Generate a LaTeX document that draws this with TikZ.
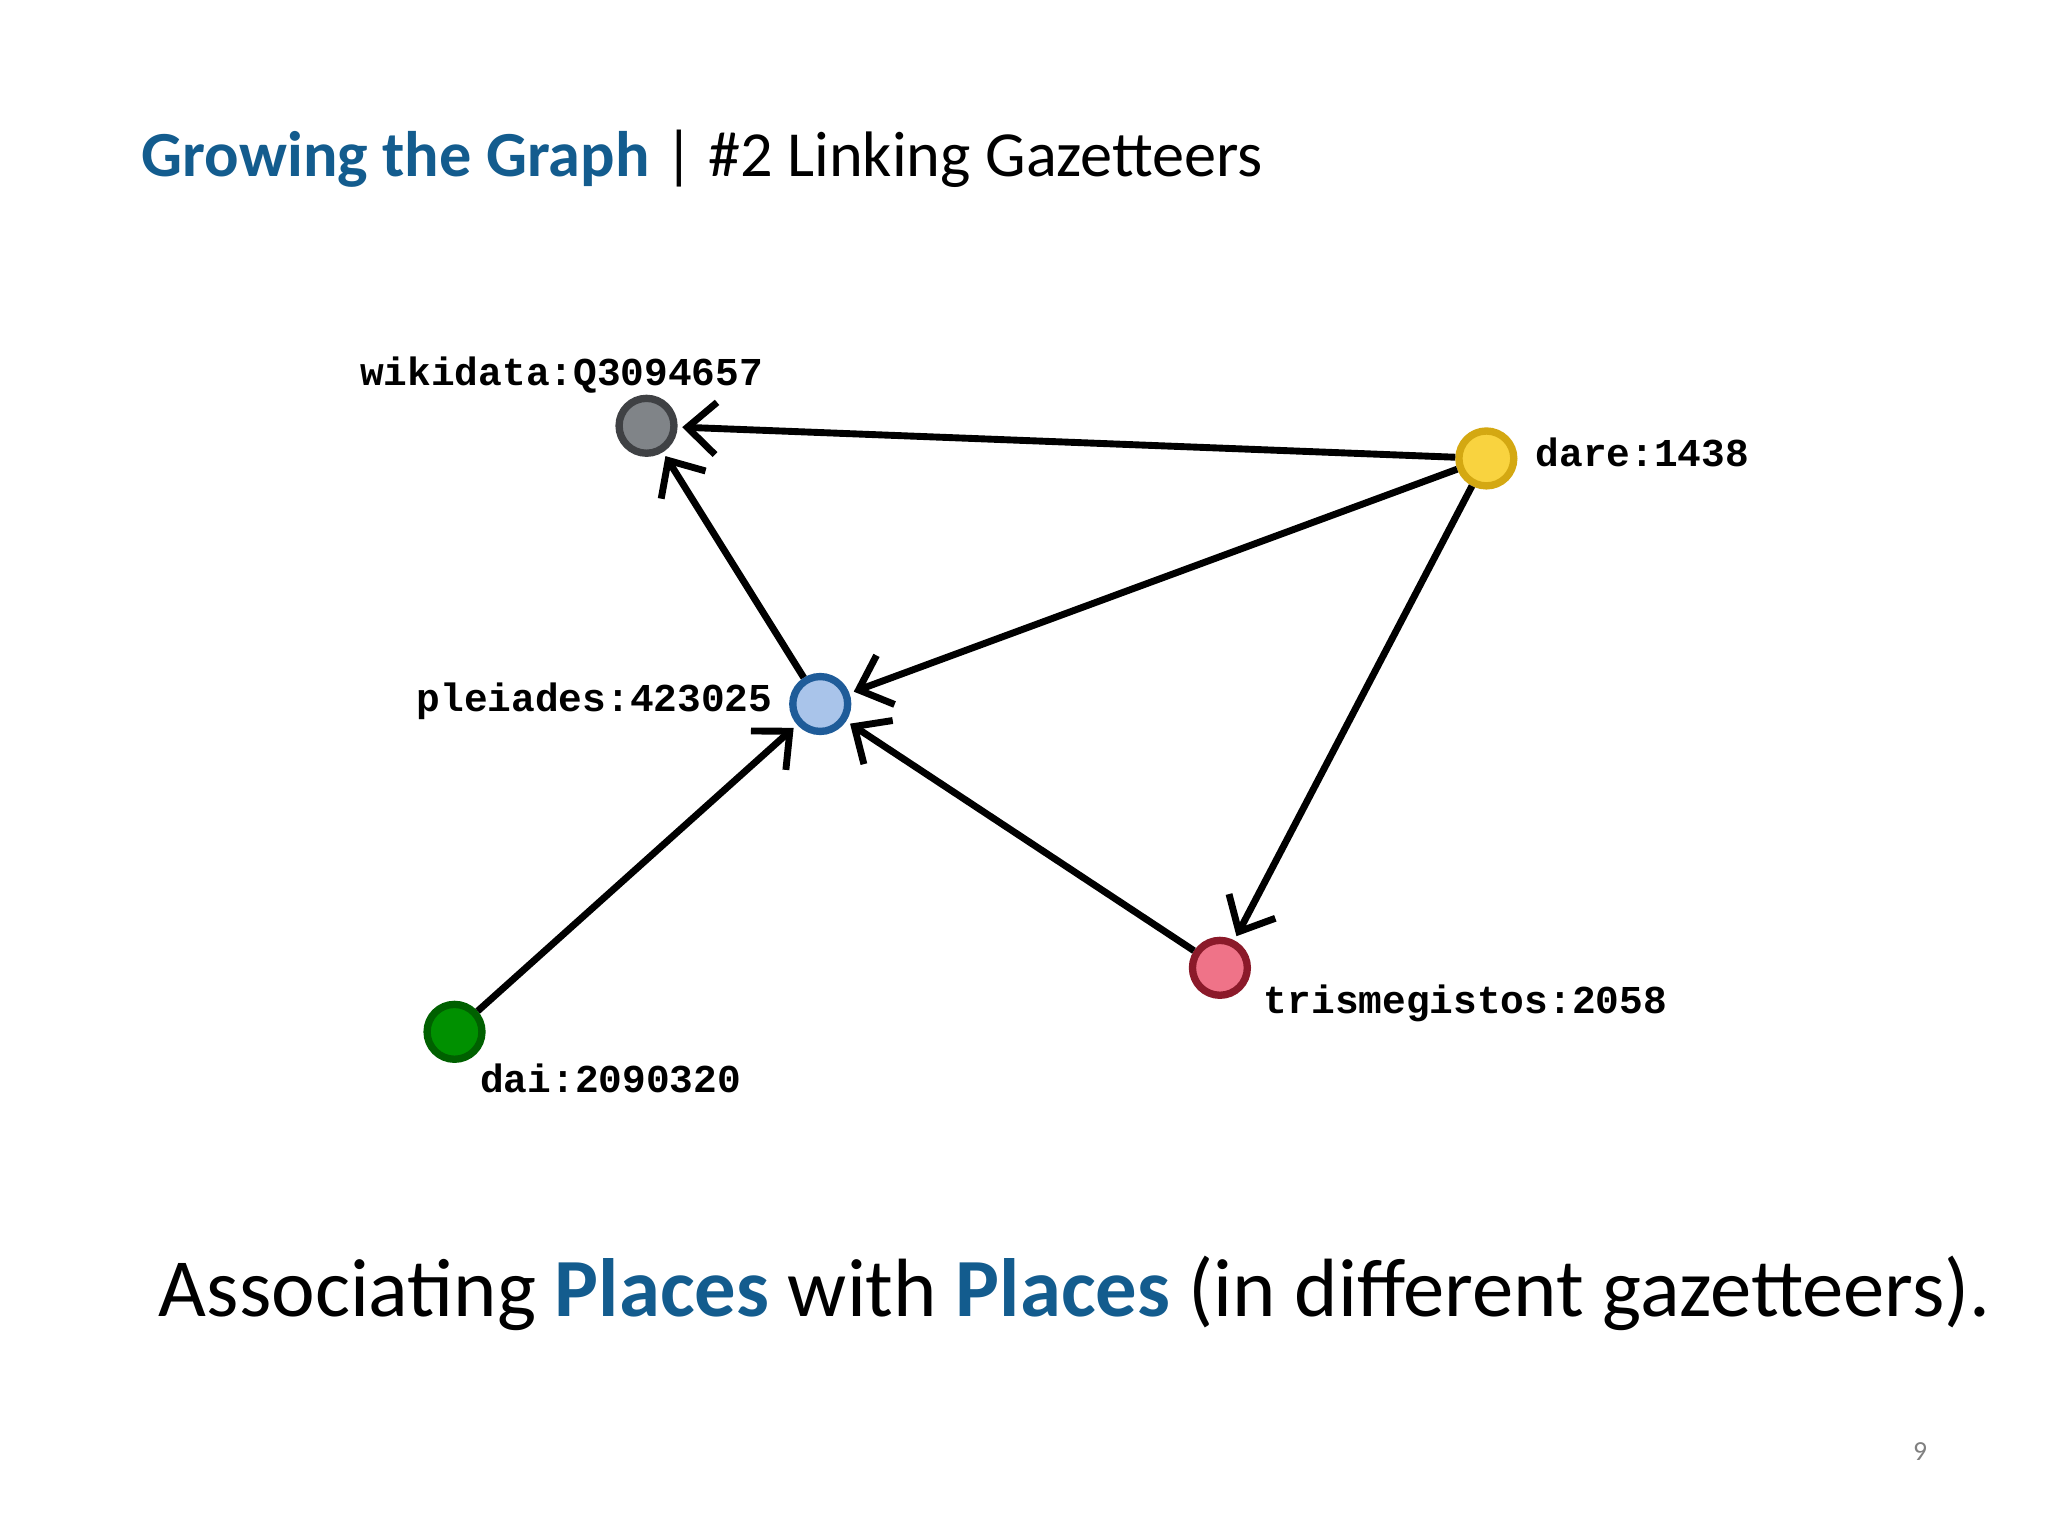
\documentclass[tikz,border=0pt]{standalone}
\usepackage{fontspec}
\setmainfont{Carlito}
\newfontfamily\monob{Liberation Mono}
\usetikzlibrary{arrows.meta}
\definecolor{tblue}{HTML}{135C8E}
\definecolor{wdf}{HTML}{808488}\definecolor{wdd}{HTML}{3F4144}
\definecolor{daf}{HTML}{F9D33F}\definecolor{dad}{HTML}{D4A812}
\definecolor{plf}{HTML}{A9C4EA}\definecolor{pld}{HTML}{1F5C99}
\definecolor{dif}{HTML}{009000}\definecolor{did}{HTML}{006000}
\definecolor{tmf}{HTML}{EF7388}\definecolor{tmd}{HTML}{8B1A2A}
\tikzset{
  gnode/.style={circle,minimum size=0.42cm,inner sep=0pt,line width=1.6pt},
  lbl/.style={font=\monob\bfseries\fontsize{8.6pt}{10pt}\selectfont,inner sep=0pt},
  edge/.style={line width=1.5pt,-{Straight Barb[length=2.2mm,width=4mm,line width=1.5pt]},shorten >=1pt}
}
\begin{document}
\begin{tikzpicture}[x=0.01cm,y=-0.01cm]
\useasboundingbox (0,0) rectangle (1568,1176);
\node[anchor=base west,inner sep=0pt,font=\fontsize{14pt}{16pt}\selectfont] (title) at (108,135)
  {\textcolor{tblue}{\bfseries Growing the Graph} | \#2 Linking Gazetteers};
\node[gnode,fill=wdf,draw=wdd] (wd) at (495,326) {};
\node[gnode,fill=daf,draw=dad] (dare) at (1138,351) {};
\node[gnode,fill=plf,draw=pld] (pl) at (628,539) {};
\node[gnode,fill=dif,draw=did] (dai) at (348,790) {};
\node[gnode,fill=tmf,draw=tmd] (tm) at (934,741) {};
\node[lbl] (lwd) at (430,287) {wikidata:Q3094657};
\node[lbl,anchor=west] (ldare) at (1175,346) {dare:1438};
\node[lbl,anchor=east] (lpl) at (592,537) {pleiades:423025};
\node[lbl,anchor=west] (ldai) at (367,826) {dai:2090320};
\node[lbl,anchor=west] (ltm) at (967,768) {trismegistos:2058};
\draw[edge] (dare) -- (wd);
\draw[edge] (dare) -- (pl);
\draw[edge] (dare) -- (tm);
\draw[edge] (pl) -- (wd);
\draw[edge] (dai) -- (pl);
\draw[edge] (tm) -- (pl);
\node[anchor=base west,inner sep=0pt,font=\fontsize{18pt}{20pt}\selectfont] (cap) at (121,1008)
  {Associating \textcolor{tblue}{\bfseries Places} with \textcolor{tblue}{\bfseries Places} (in different gazetteers).};
\node[anchor=base,inner sep=0pt,text=gray,font=\fontsize{6pt}{7pt}\selectfont] (pg) at (1470,1118) {9};
\end{tikzpicture}
\end{document}
